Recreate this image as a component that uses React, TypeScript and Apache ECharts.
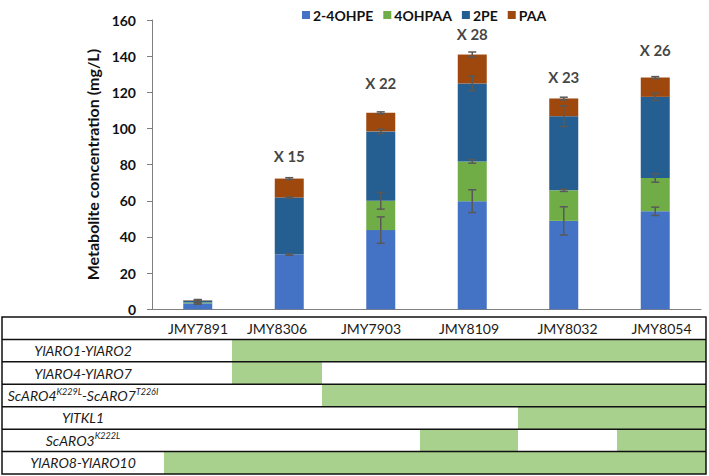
import React, { useEffect, useRef } from "react";
import * as echarts from "echarts";

const categories = ["JMY7891", "JMY8306", "JMY7903", "JMY8109", "JMY8032", "JMY8054"];
const seriesNames = ["2-4OHPE", "4OHPAA", "2PE", "PAA"];
const ohpe = [3.3, 30.3, 43.8, 59.8, 48.9, 54.2];
const ohpaa = [0.5, 0, 16.2, 22.0, 16.9, 18.4];
const pe = [1.0, 31.5, 38.4, 43.1, 41.0, 44.9];
const paa = [0.2, 10.5, 10.3, 16.0, 9.8, 10.7];
const errOhpe = [0.5, 0.4, 7.3, 6.3, 7.8, 2.3];
const errOhpaa = [0.3, 0, 4.6, 1.0, 0.6, 2.3];
const errPe = [0.5, 0.3, 1.2, 4.0, 5.7, 2.0];
const errPaa = [0.4, 0.5, 0.5, 1.4, 0.7, 0.5];
const foldLabels = ["", "X 15", "X 22", "X 28", "X 23", "X 26"];
const foldLabelY = [null, 84.7, 124.9, 152.4, 128.3, 143.6];
const yTicks = [0, 20, 40, 60, 80, 100, 120, 140, 160];

const geneRows = [
  "{i|YlARO1-YlARO2}",
  "{i|YlARO4-YlARO7}",
  "{i|ScARO4}{s|K229L}{i|-ScARO7}{s|T226I}",
  "{i|YlTKL1}",
  "{i|ScARO3}{s|K222L}",
  "{i|YlARO8-YlARO10}",
];
const presence = [
  [0, 1, 1, 1, 1, 1],
  [0, 1, 0, 0, 0, 0],
  [0, 0, 1, 1, 1, 1],
  [0, 0, 0, 0, 1, 1],
  [0, 0, 0, 1, 0, 1],
  [1, 1, 1, 1, 1, 1],
];

const colors = ["#4472C4", "#70AD47", "#255E91", "#9E480E"];
const FONT = "Lato, 'Open Sans', sans-serif";
const BOLD = "bold";
// table layout (column edges in table units)
const colEdges = [0, 162, 230, 320, 418, 516, 615, 704];
const TABLE_W = 704;

export default function App() {
  const ref = useRef<HTMLDivElement>(null);
  useEffect(() => {
    if (!ref.current) return;
    const chart = echarts.init(ref.current, null, { renderer: "svg" });
    const vals = [ohpe, ohpaa, pe, paa];
    const errs = [errOhpe, errOhpaa, errPe, errPaa];
    const errData: number[][] = [];
    categories.forEach((_, i) => {
      let cum = 0;
      for (let s = 0; s < 4; s++) {
        cum += vals[s][i];
        if (errs[s][i] > 0) errData.push([i, cum, errs[s][i]]);
      }
    });

    const tableRows = [0, 1, 2, 3, 4, 5, 6].map((r) => [0, r]);

    const option: any = {
      animation: false,
      textStyle: { fontFamily: FONT },
      legend: {
        top: 3,
        left: 297,
        itemWidth: 8,
        itemHeight: 8,
        itemGap: 10,
        icon: "rect",
        textStyle: { fontFamily: FONT, fontWeight: BOLD, fontSize: 14, color: "#111", padding: [0, 0, 0, -2] },
        data: seriesNames,
      },
      grid: [
        { left: 152, right: 8, top: 20, bottom: 166.7 },
        { left: 2, right: 3, top: 317, bottom: 2 },
      ],
      xAxis: [
        {
          type: "category",
          data: categories,
          gridIndex: 0,
          axisLabel: { show: false },
          axisTick: { show: false },
          axisLine: { lineStyle: { color: "#7f7f7f", width: 1 } },
        },
        { type: "value", gridIndex: 1, min: 0, max: TABLE_W, show: false },
      ],
      yAxis: [
        {
          type: "value",
          gridIndex: 0,
          min: 0,
          max: 160,
          interval: 20,
          name: "Metabolite concentration (mg/L)",
          nameLocation: "middle",
          nameGap: 50,
          nameTextStyle: { fontFamily: FONT, fontWeight: BOLD, fontSize: 16, color: "#111" },
          axisLine: { show: true, lineStyle: { color: "#7f7f7f", width: 1 } },
          axisTick: { show: true, length: 5, lineStyle: { color: "#7f7f7f" } },
          splitLine: { show: false },
          axisLabel: {
            fontFamily: FONT,
            fontWeight: BOLD,
            fontSize: 14,
            color: "#111",
            margin: 16,
            formatter: (v: number) => (yTicks.includes(v) ? String(v) : ""),
          },
        },
        {
          type: "category",
          gridIndex: 1,
          data: ["h", "1", "2", "3", "4", "5", "6"],
          inverse: true,
          show: false,
        },
      ],
      series: [
        ...seriesNames.map((name, s) => ({
          name,
          type: "bar",
          stack: "total",
          barWidth: 29,
          xAxisIndex: 0,
          yAxisIndex: 0,
          itemStyle: { color: colors[s] },
          data: vals[s],
        })),
        {
          type: "custom",
          xAxisIndex: 0,
          yAxisIndex: 0,
          z: 5,
          data: errData,
          renderItem: (params: any, api: any) => {
            const x = api.value(0);
            const y = api.value(1);
            const e = api.value(2);
            const hi = api.coord([x, y + e]);
            const lo = api.coord([x, y - e]);
            const w = 4;
            const st = { stroke: "#595959", lineWidth: 1.5 };
            return {
              type: "group",
              children: [
                { type: "line", shape: { x1: hi[0], y1: hi[1], x2: lo[0], y2: lo[1] }, style: st },
                { type: "line", shape: { x1: hi[0] - w, y1: hi[1], x2: hi[0] + w, y2: hi[1] }, style: st },
                { type: "line", shape: { x1: lo[0] - w, y1: lo[1], x2: lo[0] + w, y2: lo[1] }, style: st },
              ],
            };
          },
        },
        {
          type: "scatter",
          xAxisIndex: 0,
          yAxisIndex: 0,
          symbolSize: 0,
          silent: true,
          data: categories.map((c, i) => (foldLabelY[i] == null ? null : [i, foldLabelY[i]])).filter((d) => d),
          label: {
            show: true,
            position: "inside",
            fontFamily: FONT,
            fontWeight: BOLD,
            fontSize: 15,
            color: "#111",
            formatter: (p: any) => foldLabels[p.data[0]],
          },
        },
        {
          type: "custom",
          xAxisIndex: 1,
          yAxisIndex: 1,
          data: tableRows,
          silent: true,
          renderItem: (params: any, api: any) => {
            const r = api.value(1);
            const rowH = api.size([0, 1])[1];
            const c0 = api.coord([0, r]);
            const cy = c0[1];
            const top = cy - rowH / 2;
            const xOf = (v: number) => api.coord([v, r])[0];
            const x0 = xOf(0);
            const x1 = xOf(TABLE_W);
            const children: any[] = [];
            if (r === 0) {
              categories.forEach((c, j) => {
                children.push({
                  type: "text",
                  z2: 10,
                  style: {
                    text: c,
                    x: (xOf(colEdges[j + 1]) + xOf(colEdges[j + 2])) / 2,
                    y: cy,
                    align: "center",
                    verticalAlign: "middle",
                    font: `14px ${FONT}`,
                    fill: "#1a1a1a",
                  },
                });
              });
              children.push({
                type: "rect",
                z2: 20,
                shape: { x: x0, y: top, width: x1 - x0, height: rowH * 7 },
                style: { fill: "none", stroke: "#111", lineWidth: 1.5 },
              });
            } else {
              const g = r - 1;
              presence[g].forEach((p, j) => {
                if (p) {
                  const a = xOf(colEdges[j + 1]);
                  const b = xOf(colEdges[j + 2]);
                  children.push({
                    type: "rect",
                    z2: 1,
                    shape: { x: a, y: top, width: b - a, height: rowH },
                    style: { fill: "#A9D18E" },
                  });
                }
              });
              children.push({
                type: "text",
                z2: 10,
                style: {
                  text: geneRows[g],
                  x: (xOf(colEdges[0]) + xOf(colEdges[1])) / 2,
                  y: cy,
                  align: "center",
                  verticalAlign: "middle",
                  fill: "#1a1a1a",
                  rich: {
                    i: { fontFamily: FONT, fontStyle: "italic", fontSize: 14, lineHeight: 18, fill: "#1a1a1a" },
                    s: { fontFamily: FONT, fontStyle: "italic", fontSize: 9, lineHeight: 18, verticalAlign: "top", fill: "#1a1a1a" },
                  },
                },
              });
              children.push({
                type: "line",
                z2: 15,
                shape: { x1: x0, y1: top, x2: x1, y2: top },
                style: { stroke: "#111", lineWidth: 1.5 },
              });
            }
            return { type: "group", children };
          },
        },
      ],
    };
    chart.setOption(option);
    return () => chart.dispose();
  }, []);
  return (
    <div
      ref={ref}
      style={{ position: "fixed", left: 0, top: 0, width: 709, height: 476, background: "#fff" }}
    />
  );
}
